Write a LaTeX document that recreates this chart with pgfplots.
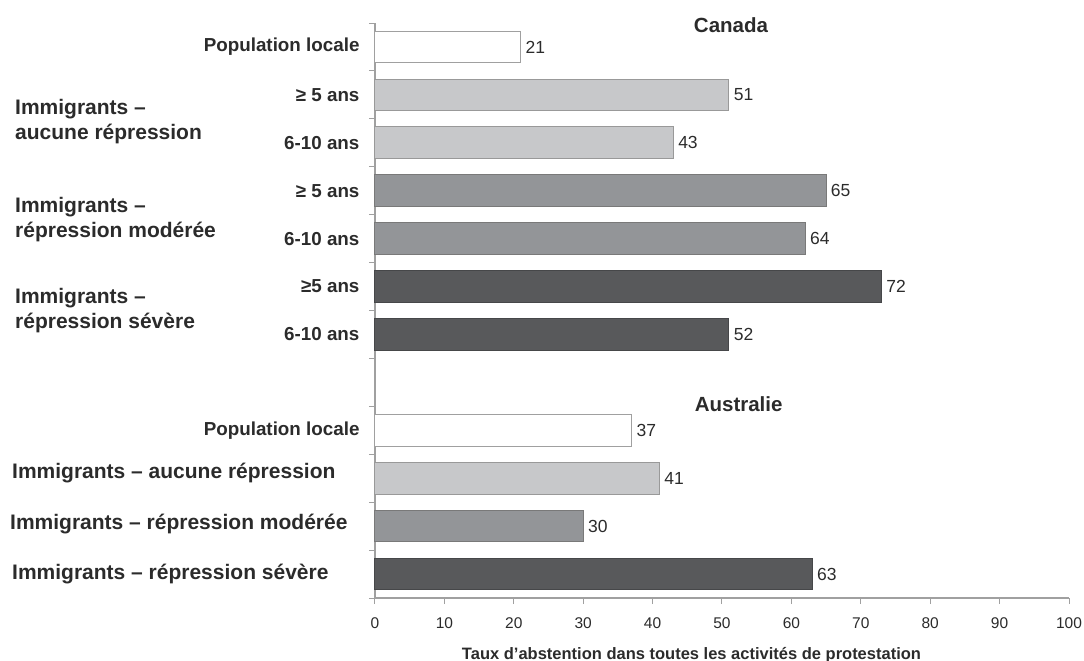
\documentclass[border=0pt]{standalone}
\usepackage{pgfplots}
\pgfplotsset{compat=1.18}
\usepackage{pgfplotstable}
\usepackage{fontspec}
\setmainfont{Liberation Sans}
\definecolor{textc}{HTML}{2B2B2B}
\definecolor{lightbar}{HTML}{C7C8CA}
\definecolor{midbar}{HTML}{939598}
\definecolor{darkbar}{HTML}{58595B}
\definecolor{axisc}{HTML}{A0A0A0}

\pgfplotstableread{
y x lab
0 21 21
8 37 37
}\whitedata
\pgfplotstableread{
y x lab
1 51 51
2 43 43
9 41 41
}\lightdata
\pgfplotstableread{
y x lab
3 65 65
4 62 64
10 30 30
}\middata
\pgfplotstableread{
y x lab
5 73 72
6 51 52
11 63 63
}\darkdata

\begin{document}
\begin{tikzpicture}
\begin{axis}[
  scale only axis, width=694pt, height=575pt,
  xbar, bar width=0.66, bar shift=0pt,
  xmin=0, xmax=100, ymin=-0.5, ymax=11.5, enlargelimits=false,
  y dir=reverse,
  axis x line*=bottom, axis y line*=left,
  axis line style={draw=axisc, line width=1.3pt},
  tick style={draw=axisc, line width=1pt},
  tick align=outside, major tick length=6pt,
  xtick={0,10,...,100},
  ytick={-0.5,0.5,...,11.5},
  y tick label as interval,
  yticklabels={Population locale, ≥ 5 ans, 6-10 ans, ≥ 5 ans, 6-10 ans, ≥5 ans, 6-10 ans, {}, Population locale, {}, {}, {}},
  yticklabel style={font=\fontsize{18.8}{22}\selectfont\bfseries, text=textc, xshift=-6pt},
  xticklabel style={font=\fontsize{15.5}{18}\selectfont, text=textc, yshift=-10pt},
  /pgf/number format/assume math mode=true,
  xlabel={Taux d’abstention dans toutes les activités de protestation},
  xlabel style={font=\fontsize{16.5}{20}\selectfont\bfseries, text=textc, xshift=-30.5pt, yshift=-12pt},
  point meta=explicit symbolic,
  nodes near coords,
  nodes near coords style={anchor=west, font=\fontsize{17.5}{20}\selectfont, text=textc, xshift=1pt},
  clip=false,
]
\addplot[fill=white, draw=axisc, line width=1pt] table[x=x, y=y, meta=lab] {\whitedata};
\addplot[fill=lightbar, draw=gray!80, line width=1pt] table[x=x, y=y, meta=lab] {\lightdata};
\addplot[fill=midbar, draw=gray!95!black, line width=1pt] table[x=x, y=y, meta=lab] {\middata};
\addplot[fill=darkbar, draw=darkbar!80!black, line width=1pt] table[x=x, y=y, meta=lab] {\darkdata};

\node[font=\fontsize{20.5}{24}\selectfont\bfseries, text=textc] at (axis cs:51.3,-0.46) {Canada};
\node[font=\fontsize{20.5}{24}\selectfont\bfseries, text=textc] at (axis cs:52.4,7.45) {Australie};

\node[anchor=west, align=left, font=\fontsize{21}{25}\selectfont\bfseries, text=textc, inner sep=0pt] at ([xshift=-360pt]axis cs:0,1.55) {Immigrants –\\aucune répression};
\node[anchor=west, align=left, font=\fontsize{21}{25}\selectfont\bfseries, text=textc, inner sep=0pt] at ([xshift=-360pt]axis cs:0,3.6) {Immigrants –\\répression modérée};
\node[anchor=west, align=left, font=\fontsize{21}{25}\selectfont\bfseries, text=textc, inner sep=0pt] at ([xshift=-360pt]axis cs:0,5.5) {Immigrants –\\répression sévère};

\node[anchor=west, font=\fontsize{21}{25}\selectfont\bfseries, text=textc, inner sep=0pt] at ([xshift=-363pt]axis cs:0,8.9) {Immigrants – aucune répression};
\node[anchor=west, font=\fontsize{21}{25}\selectfont\bfseries, text=textc, inner sep=0pt] at ([xshift=-365pt]axis cs:0,9.95) {Immigrants – répression modérée};
\node[anchor=west, font=\fontsize{21}{25}\selectfont\bfseries, text=textc, inner sep=0pt] at ([xshift=-363pt]axis cs:0,11) {Immigrants – répression sévère};
\end{axis}
\pgfresetboundingbox
\path[use as bounding box] ([xshift=-375pt,yshift=-63pt]current axis.south west) rectangle ([xshift=15pt,yshift=23pt]current axis.north east);
\end{tikzpicture}
\end{document}
